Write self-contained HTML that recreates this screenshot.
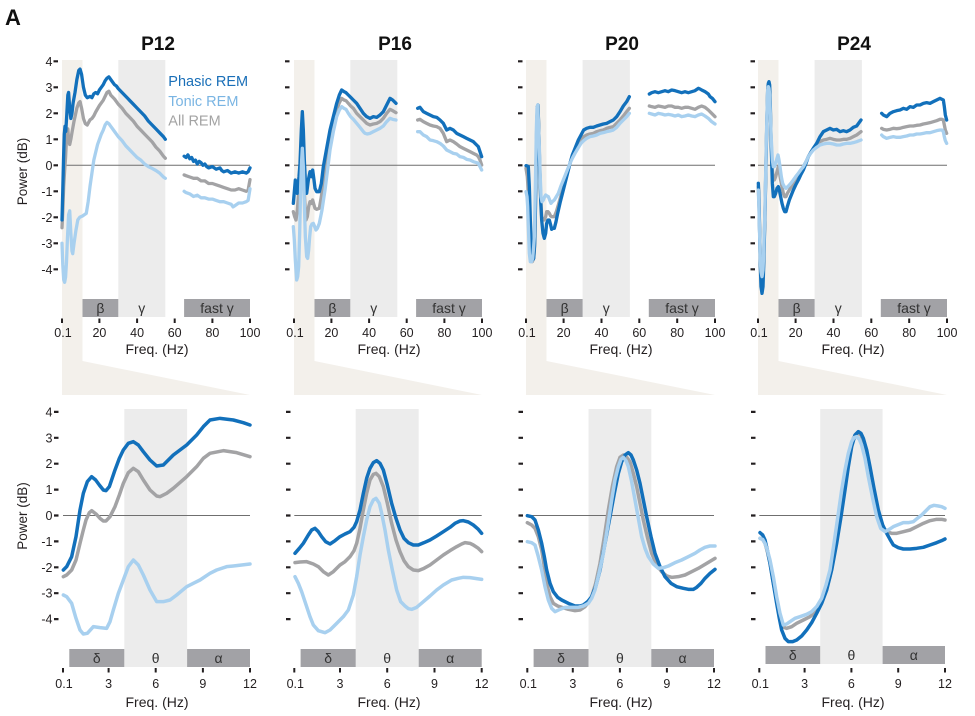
<!DOCTYPE html>
<html><head><meta charset="utf-8"><style>
html,body{margin:0;padding:0;background:#fff;}
svg{display:block;}
text{font-family:"Liberation Sans",Arial,sans-serif;}
.tk{fill:#231f20;font-size:12.5px;text-anchor:middle;}
.yl{fill:#231f20;font-size:12.5px;text-anchor:end;}
.fl{fill:#231f20;font-size:14px;text-anchor:middle;}
.bl{fill:#333;font-size:14px;text-anchor:middle;}
.ttl{fill:#111;font-size:19px;font-weight:bold;text-anchor:middle;}
.ph{fill:none;stroke:#1270bb;stroke-linejoin:round;stroke-linecap:round;}
.to{fill:none;stroke:#a8d0ef;stroke-linejoin:round;stroke-linecap:round;}
.al{fill:none;stroke:#a3a3a5;stroke-linejoin:round;stroke-linecap:round;}
</style></head><body>
<svg width="975" height="716" viewBox="0 0 975 716" xmlns="http://www.w3.org/2000/svg">
<rect width="975" height="716" fill="#fff"/>

<!-- beige trapezoids -->
<g fill="#f3f0eb">
<polygon points="62,60 82.5,60 82.5,361 250,395 62,395"/>
<polygon points="294,60 314.5,60 314.5,361 482,395 294,395"/>
<polygon points="526,60 546.5,60 546.5,361 715,395 526,395"/>
<polygon points="758,60 778.5,60 778.5,361 947,395 758,395"/>
</g>

<!-- gamma bands (top) -->
<g fill="#ececec">
<rect x="118.3" y="60" width="47" height="257"/>
<rect x="350.3" y="60" width="47" height="257"/>
<rect x="582.6" y="60" width="47.3" height="257"/>
<rect x="814.6" y="60" width="47.3" height="257"/>
<!-- theta bands (bottom) -->
<rect x="124.3" y="409" width="62.8" height="258"/>
<rect x="355.7" y="409" width="63" height="258"/>
<rect x="588.5" y="409" width="62.8" height="258"/>
<rect x="820.2" y="409" width="62.4" height="255"/>
</g>

<!-- dark boxes -->
<g fill="#a2a2a6">
<rect x="82.5" y="299" width="35.8" height="18"/>
<rect x="184.1" y="299" width="65.9" height="18"/>
<rect x="314.5" y="299" width="35.8" height="18"/>
<rect x="416.1" y="299" width="65.9" height="18"/>
<rect x="546.5" y="299" width="36.1" height="18"/>
<rect x="648.8" y="299" width="66.2" height="18"/>
<rect x="778.5" y="299" width="36.1" height="18"/>
<rect x="880.8" y="299" width="66.2" height="18"/>

<rect x="69.3" y="649" width="55" height="18"/>
<rect x="187.1" y="649" width="62.9" height="18"/>
<rect x="300.6" y="649" width="55.1" height="18"/>
<rect x="418.7" y="649" width="63" height="18"/>
<rect x="533.6" y="649" width="54.9" height="18"/>
<rect x="651.3" y="649" width="62.7" height="18"/>
<rect x="765.5" y="646" width="54.7" height="18"/>
<rect x="882.6" y="646" width="62.4" height="18"/>
</g>

<!-- band labels -->
<g class="bl">
<text x="100.4" y="313">β</text><text x="141.8" y="313">γ</text><text x="217" y="313">fast γ</text>
<text x="332.4" y="313">β</text><text x="373.8" y="313">γ</text><text x="449" y="313">fast γ</text>
<text x="564.6" y="313">β</text><text x="606.2" y="313">γ</text><text x="682" y="313">fast γ</text>
<text x="796.6" y="313">β</text><text x="838.2" y="313">γ</text><text x="914" y="313">fast γ</text>

<text x="96.8" y="663">δ</text><text x="155.7" y="663">θ</text><text x="218.5" y="663">α</text>
<text x="328.1" y="663">δ</text><text x="387.2" y="663">θ</text><text x="450.2" y="663">α</text>
<text x="561" y="663">δ</text><text x="619.9" y="663">θ</text><text x="682.6" y="663">α</text>
<text x="792.8" y="660">δ</text><text x="851.4" y="660">θ</text><text x="913.8" y="660">α</text>
</g>

<!-- zero lines -->
<g stroke="#6f6f6f" stroke-width="1">
<line x1="62" y1="165.3" x2="250" y2="165.3"/>
<line x1="294" y1="165.3" x2="482" y2="165.3"/>
<line x1="526" y1="165.3" x2="715" y2="165.3"/>
<line x1="758" y1="165.3" x2="947" y2="165.3"/>
<line x1="63" y1="515.5" x2="250" y2="515.5"/>
<line x1="294.3" y1="515.5" x2="481.7" y2="515.5"/>
<line x1="527.3" y1="515.5" x2="714" y2="515.5"/>
<line x1="759.3" y1="515.5" x2="945" y2="515.5"/>
</g>

<!-- y tick dashes -->
<g stroke="#231f20" stroke-width="2.2">
<path d="M53.5 61.3h4.5M53.5 87.3h4.5M53.5 113.3h4.5M53.5 139.3h4.5M53.5 165.3h4.5M53.5 191.3h4.5M53.5 217.3h4.5M53.5 243.3h4.5M53.5 269.3h4.5"/>
<path d="M285 61.3h4.5M285 87.3h4.5M285 113.3h4.5M285 139.3h4.5M285 165.3h4.5M285 191.3h4.5M285 217.3h4.5M285 243.3h4.5M285 269.3h4.5"/>
<path d="M518 61.3h4.5M518 87.3h4.5M518 113.3h4.5M518 139.3h4.5M518 165.3h4.5M518 191.3h4.5M518 217.3h4.5M518 243.3h4.5M518 269.3h4.5"/>
<path d="M750.5 61.3h4.5M750.5 87.3h4.5M750.5 113.3h4.5M750.5 139.3h4.5M750.5 165.3h4.5M750.5 191.3h4.5M750.5 217.3h4.5M750.5 243.3h4.5M750.5 269.3h4.5"/>
<path d="M54 411.9h4.5M54 437.8h4.5M54 463.7h4.5M54 489.6h4.5M54 515.5h4.5M54 541.4h4.5M54 567.3h4.5M54 593.2h4.5M54 619.1h4.5"/>
<path d="M286 411.9h4.5M286 437.8h4.5M286 463.7h4.5M286 489.6h4.5M286 515.5h4.5M286 541.4h4.5M286 567.3h4.5M286 593.2h4.5M286 619.1h4.5"/>
<path d="M518.5 411.9h4.5M518.5 437.8h4.5M518.5 463.7h4.5M518.5 489.6h4.5M518.5 515.5h4.5M518.5 541.4h4.5M518.5 567.3h4.5M518.5 593.2h4.5M518.5 619.1h4.5"/>
<path d="M751 411.9h4.5M751 437.8h4.5M751 463.7h4.5M751 489.6h4.5M751 515.5h4.5M751 541.4h4.5M751 567.3h4.5M751 593.2h4.5M751 619.1h4.5"/>
</g>

<!-- x tick marks -->
<g stroke="#231f20" stroke-width="2">
<path d="M62 318.5v4.5M99.4 318.5v4.5M137.1 318.5v4.5M174.7 318.5v4.5M212.4 318.5v4.5M250 318.5v4.5"/>
<path d="M294 318.5v4.5M331.4 318.5v4.5M369.1 318.5v4.5M406.7 318.5v4.5M444.4 318.5v4.5M482 318.5v4.5"/>
<path d="M526 318.5v4.5M563.6 318.5v4.5M601.5 318.5v4.5M639.3 318.5v4.5M677.2 318.5v4.5M715 318.5v4.5"/>
<path d="M758 318.5v4.5M795.6 318.5v4.5M833.5 318.5v4.5M871.3 318.5v4.5M909.2 318.5v4.5M947 318.5v4.5"/>
<path d="M63 668v4.5M108.6 668v4.5M155.7 668v4.5M202.9 668v4.5M250 668v4.5"/>
<path d="M294.3 668v4.5M340 668v4.5M387.2 668v4.5M434.5 668v4.5M481.7 668v4.5"/>
<path d="M527.3 668v4.5M572.8 668v4.5M619.9 668v4.5M666.9 668v4.5M714 668v4.5"/>
<path d="M759.3 668v4.5M804.6 668v4.5M851.4 668v4.5M898.2 668v4.5M945 668v4.5"/>
</g>

<!-- x tick labels -->
<g class="tk">
<text x="63" y="337">0.1</text><text x="99.4" y="337">20</text><text x="137.1" y="337">40</text><text x="174.7" y="337">60</text><text x="212.4" y="337">80</text><text x="250" y="337">100</text>
<text x="295" y="337">0.1</text><text x="331.4" y="337">20</text><text x="369.1" y="337">40</text><text x="406.7" y="337">60</text><text x="444.4" y="337">80</text><text x="482" y="337">100</text>
<text x="527" y="337">0.1</text><text x="563.6" y="337">20</text><text x="601.5" y="337">40</text><text x="639.3" y="337">60</text><text x="677.2" y="337">80</text><text x="715" y="337">100</text>
<text x="759" y="337">0.1</text><text x="795.6" y="337">20</text><text x="833.5" y="337">40</text><text x="871.3" y="337">60</text><text x="909.2" y="337">80</text><text x="947" y="337">100</text>

<text x="64" y="688">0.1</text><text x="108.6" y="688">3</text><text x="155.7" y="688">6</text><text x="202.9" y="688">9</text><text x="250" y="688">12</text>
<text x="295.3" y="688">0.1</text><text x="340" y="688">3</text><text x="387.2" y="688">6</text><text x="434.5" y="688">9</text><text x="481.7" y="688">12</text>
<text x="528.3" y="688">0.1</text><text x="572.8" y="688">3</text><text x="619.9" y="688">6</text><text x="666.9" y="688">9</text><text x="714" y="688">12</text>
<text x="760.3" y="688">0.1</text><text x="804.6" y="688">3</text><text x="851.4" y="688">6</text><text x="898.2" y="688">9</text><text x="945" y="688">12</text>
</g>

<!-- Freq labels -->
<g class="fl">
<text x="157" y="354">Freq. (Hz)</text>
<text x="389" y="354">Freq. (Hz)</text>
<text x="621" y="354">Freq. (Hz)</text>
<text x="853" y="354">Freq. (Hz)</text>
<text x="157" y="707">Freq. (Hz)</text>
<text x="389" y="707">Freq. (Hz)</text>
<text x="621" y="707">Freq. (Hz)</text>
<text x="853" y="707">Freq. (Hz)</text>
</g>

<!-- y tick labels P12 -->
<g class="yl">
<text x="52.5" y="65.8">4</text><text x="52.5" y="91.8">3</text><text x="52.5" y="117.8">2</text><text x="52.5" y="143.8">1</text><text x="52.5" y="169.8">0</text><text x="52.5" y="195.8">-1</text><text x="52.5" y="221.8">-2</text><text x="52.5" y="247.8">-3</text><text x="52.5" y="273.8">-4</text>
<text x="52.5" y="416.4">4</text><text x="52.5" y="442.3">3</text><text x="52.5" y="468.2">2</text><text x="52.5" y="494.1">1</text><text x="52.5" y="520">0</text><text x="52.5" y="545.9">-1</text><text x="52.5" y="571.8">-2</text><text x="52.5" y="597.7">-3</text><text x="52.5" y="623.6">-4</text>
</g>
<text transform="translate(27,171.5) rotate(-90)" style="font-size:13.5px;fill:#231f20;text-anchor:middle">Power (dB)</text>
<text transform="translate(27,516) rotate(-90)" style="font-size:13.5px;fill:#231f20;text-anchor:middle">Power (dB)</text>

<!-- titles -->
<text x="5" y="25" style="font-size:22px;font-weight:bold;fill:#111">A</text>
<g class="ttl">
<text x="158" y="50">P12</text>
<text x="395" y="50">P16</text>
<text x="622" y="50">P20</text>
<text x="854" y="50">P24</text>
</g>

<!-- legend -->
<text x="168.3" y="86" style="font-size:14.5px;fill:#1a6fb8">Phasic REM</text>
<text x="168.3" y="106" style="font-size:14.5px;fill:#7ab5e3">Tonic REM</text>
<text x="168.3" y="125.5" style="font-size:14.5px;fill:#a3a3a3">All REM</text>

<!-- P12 top curves (freq, dB) -->
<g transform="translate(62,165.3) scale(1.882,-26) translate(-0.1,0)">
<polyline class="al" vector-effect="non-scaling-stroke" stroke-width="3.3" points="0.1,-2.4 0.5,-1.8 1.0,-0.8 1.5,-0.2 2,0.3 2.6,1.2 3.2,1.4 3.6,1.0 4.2,0.8 4.8,1.0 5.5,1.3 6.5,1.7 8,2.2 9,2.4 9.7,2.45 10.5,2.2 11.5,1.8 12.5,1.6 13.5,1.55 15,1.75 16,1.8 17,1.9 18,2.05 20,2.3 22,2.5 24,2.8 25,2.85 26,2.7 28,2.55 30,2.35 32,2.2 34,2.0 36,1.85 38,1.7 40,1.5 42,1.35 44,1.2 46,1.05 48,0.9 50,0.7 52,0.55 54,0.35 55,0.27"/>
<polyline class="al" vector-effect="non-scaling-stroke" stroke-width="3.3" points="65,-0.37 66,-0.4 68,-0.45 70,-0.5 72,-0.5 74,-0.6 76,-0.6 78,-0.7 80,-0.7 82,-0.75 84,-0.8 86,-0.85 88,-0.9 90,-0.95 92,-0.95 94,-0.9 96,-0.95 98,-1.0 99,-0.95 100,-0.55"/>
<polyline class="ph" vector-effect="non-scaling-stroke" stroke-width="3.3" points="0.1,-2.1 0.5,-1.0 0.9,0.2 1.3,1.2 1.7,1.5 2.1,1.3 2.6,1.9 3.2,2.7 3.6,2.8 4.2,2.2 4.8,1.8 5.4,2.0 6,2.4 7,2.8 8,3.3 9,3.65 9.7,3.7 10.5,3.5 11.5,3.0 12.5,2.7 13.5,2.6 15,2.65 16,2.6 17,2.75 18,2.8 19,2.75 20,2.9 21,3.0 22,3.1 23,3.25 24,3.35 25,3.4 26,3.3 27,3.2 28,3.1 29,3.05 30,2.95 32,2.8 34,2.65 36,2.5 38,2.35 40,2.2 42,2.05 44,1.9 46,1.7 48,1.55 50,1.4 52,1.25 54,1.1 55,1.0"/>
<polyline class="ph" vector-effect="non-scaling-stroke" stroke-width="3.3" points="65,0.35 66,0.3 67,0.4 68,0.25 69,0.3 70,0.15 71,0.2 72,0.05 73,0.15 74,0.1 75,0 76,0.05 77,-0.05 78,-0.1 80,-0.05 82,-0.15 84,-0.1 85,-0.2 86,-0.25 88,-0.2 90,-0.3 92,-0.25 94,-0.3 96,-0.25 98,-0.3 99,-0.25 100,-0.1"/>
<polyline class="to" vector-effect="non-scaling-stroke" stroke-width="3.3" points="0.1,-3.0 0.5,-3.8 1.0,-4.4 1.5,-4.5 2.0,-4.3 2.5,-3.7 3.0,-2.8 3.6,-1.9 4.2,-1.75 4.8,-2.6 5.4,-3.3 5.8,-3.4 6.5,-3.0 7.5,-2.5 8.5,-2.1 9.5,-2.0 11,-1.95 12,-1.9 13,-1.85 14,-1.4 15,-0.8 16,-0.3 17,0.2 18,0.5 19,0.8 20,1.0 21,1.2 22,1.35 23,1.55 24,1.65 25,1.6 26,1.5 27,1.4 28,1.3 30,1.1 32,0.95 34,0.75 36,0.6 38,0.45 40,0.3 42,0.2 44,0.05 46,-0.05 48,-0.12 50,-0.2 52,-0.3 54,-0.45 55,-0.5"/>
<polyline class="to" vector-effect="non-scaling-stroke" stroke-width="3.3" points="65,-1.0 66,-1.05 68,-1.1 70,-1.2 72,-1.15 74,-1.25 76,-1.25 78,-1.3 80,-1.3 82,-1.35 84,-1.4 86,-1.4 88,-1.45 90,-1.5 91,-1.6 92,-1.55 94,-1.45 96,-1.45 98,-1.4 99,-1.35 100,-0.9"/>
</g>

<!-- P16 top (zoom coords) -->
<g transform="translate(260,20) scale(0.33333)" stroke-width="10">
<polyline class="al" points="100,575 104,590 108,600 112,570 116,520 120,450 124,370 127,330 130,400 134,540 138,600 142,590 146,560 150,545 155,550 158,540 162,555 165,565 170,568 178,565 184,530 190,480 200,420 210,360 220,310 230,270 238,248 245,235 252,240 258,242 265,250 272,258 280,265 290,280 300,290 310,300 320,310 330,315 340,312 350,310 360,305 370,295 380,280 390,268 398,272 408,278"/>
<polyline class="al" points="473,300 480,298 490,305 500,310 510,315 520,318 530,320 540,325 550,340 560,365 570,360 580,365 590,372 600,380 610,385 620,390 630,395 640,400 650,405 655,410 660,420 665,435"/>
<polyline class="ph" points="100,550 106,480 112,520 117,470 120,430 124,330 127,275 130,330 133,420 137,500 140,520 145,480 150,455 155,470 158,450 162,480 165,505 170,515 178,515 184,490 190,440 200,385 210,330 220,290 230,250 238,225 245,210 252,215 258,218 265,225 272,232 280,240 290,250 300,265 310,280 320,290 330,295 340,290 350,292 360,285 370,275 380,255 390,235 398,240 408,250"/>
<polyline class="ph" points="473,265 480,262 490,275 500,280 510,285 520,290 530,292 540,300 550,310 560,330 570,325 580,330 590,340 600,345 610,350 620,355 630,360 640,365 650,375 655,380 660,395 665,410"/>
<polyline class="to" points="100,620 103,660 106,720 110,780 113,770 116,740 119,640 122,500 125,420 127,385 130,440 133,550 136,650 140,710 143,715 146,690 149,650 152,620 156,612 160,610 164,620 168,630 172,625 178,610 186,570 195,510 202,455 210,390 220,335 230,290 238,270 245,260 252,265 258,268 265,280 272,290 280,298 290,310 300,322 310,335 315,340 322,342 330,340 340,335 350,330 360,325 370,318 380,305 390,295 398,298 408,300"/>
<polyline class="to" points="473,335 480,335 490,345 500,350 510,360 520,362 530,365 540,370 550,378 560,390 570,395 580,400 590,402 600,410 610,412 620,418 630,420 640,425 650,428 655,430 660,440 665,450"/>
</g>

<!-- P20 top -->
<g transform="translate(495,20) scale(0.33333)" stroke-width="10">
<polyline class="al" points="93,445 97,470 100,520 103,600 107,700 112,725 116,715 119,680 121,590 123,450 125,330 127,262 129,258 131,320 134,430 137,530 140,590 144,600 148,600 152,590 155,575 159,575 163,580 167,588 170,590 174,590 178,590 184,575 190,555 197,530 205,500 215,465 225,430 232,410 240,395 250,375 258,360 266,350 275,345 285,342 295,340 305,335 315,332 325,330 335,325 345,322 355,320 365,310 375,300 385,288 395,275 403,265"/>
<polyline class="al" points="463,258 470,260 480,262 490,258 500,260 510,262 520,258 530,258 540,262 550,262 560,265 570,262 580,262 590,265 600,268 610,262 620,258 630,262 640,270 650,280 660,290"/>
<polyline class="ph" points="93,437 97,438 100,440 103,500 106,600 109,680 113,720 116,715 119,670 121,580 123,450 125,330 127,260 129,255 131,320 134,440 137,540 140,600 144,640 148,655 152,640 155,610 159,600 163,600 167,615 170,628 174,625 178,625 183,605 188,580 196,545 205,510 215,470 225,430 232,405 240,385 250,360 258,345 266,330 275,325 285,322 295,322 305,318 315,315 325,312 335,310 345,305 355,300 365,290 375,275 385,258 395,245 403,230"/>
<polyline class="ph" points="463,222 470,218 480,215 490,218 500,215 510,212 520,215 530,210 540,212 550,215 560,218 570,215 580,218 590,215 600,212 610,205 615,207 620,210 630,215 640,222 645,230 652,235 660,245"/>
<polyline class="to" points="93,515 96,530 98,560 100,620 103,700 106,725 110,725 113,715 116,680 118,650 120,560 122,450 124,330 126,265 128,255 130,300 133,380 135,450 138,530 141,545 145,540 149,530 152,525 156,528 160,530 164,540 168,550 172,545 178,540 184,530 190,520 197,500 205,480 215,455 225,430 232,415 240,400 250,383 258,370 266,362 275,355 285,350 295,348 305,345 315,340 325,338 335,335 345,333 355,330 365,322 375,310 385,300 395,290 403,280"/>
<polyline class="to" points="463,280 470,282 480,285 490,280 500,282 510,285 520,283 530,285 540,288 550,285 560,290 570,288 580,285 590,288 600,290 610,285 620,282 630,288 640,295 650,305 660,312"/>
</g>

<!-- P24 top -->
<g transform="translate(730,20) scale(0.33333)" stroke-width="10">
<polyline class="al" points="85,500 87,560 89,640 91,720 93,760 96,780 99,770 101,720 103,650 105,570 107,470 109,370 111,290 113,215 115,200 117,200 119,210 121,270 123,350 125,400 127,450 130,480 133,480 137,470 141,455 145,440 148,455 152,480 156,500 160,520 164,530 168,530 172,520 178,510 184,500 190,490 197,480 205,465 212,455 220,440 228,425 235,410 242,398 250,385 260,375 270,365 280,360 290,358 300,355 310,358 320,360 330,360 340,358 350,358 360,355 370,350 380,345 393,335"/>
<polyline class="al" points="455,325 460,328 470,330 480,328 490,325 500,326 510,325 520,322 530,320 540,318 550,318 560,316 570,315 580,312 590,310 600,308 610,305 620,302 630,298 636,298 640,300 643,315 646,330 650,340"/>
<polyline class="ph" points="85,490 87,540 89,640 91,740 93,800 96,820 99,800 101,740 103,660 105,580 107,480 109,380 111,290 113,210 115,190 117,185 119,195 121,260 123,360 125,420 127,490 130,530 133,530 137,520 141,505 145,500 148,510 152,530 156,550 160,565 164,575 168,575 172,560 178,540 184,525 190,510 197,495 205,480 212,465 220,450 228,430 235,410 242,398 250,385 260,370 270,350 280,335 290,330 300,325 310,330 320,328 330,335 340,332 350,335 360,330 370,322 380,318 393,300"/>
<polyline class="ph" points="455,280 460,285 470,290 480,280 490,275 500,272 510,270 520,265 530,268 540,260 550,262 560,255 570,255 580,250 590,248 600,250 610,245 620,240 630,235 636,238 640,240 643,260 646,285 650,300"/>
<polyline class="to" points="85,510 87,570 89,650 91,720 93,755 96,770 99,750 101,700 103,630 105,560 107,460 109,360 111,280 113,210 115,200 117,205 119,225 121,280 123,340 125,380 127,420 130,440 133,440 137,430 141,415 144,405 147,420 150,440 154,470 158,490 163,500 168,505 173,500 178,495 184,488 190,480 197,470 205,460 212,450 220,440 228,425 235,410 242,400 250,390 260,382 270,375 280,372 290,370 300,370 310,372 320,375 330,375 340,372 350,370 360,370 370,368 380,365 393,360"/>
<polyline class="to" points="455,345 460,350 470,355 480,352 490,350 500,352 510,352 520,350 530,348 540,345 550,345 560,342 570,342 580,340 590,338 600,338 610,335 620,332 630,330 636,330 640,335 643,350 646,362 650,370"/>
</g>

<!-- P12 bottom -->
<g transform="translate(0,370) scale(0.33333)" stroke-width="10.5">
<polyline class="al" points="190,620 200,615 215,600 228,570 240,520 250,480 258,450 268,428 275,422 288,432 300,445 310,453 318,453 330,440 345,410 358,375 370,340 385,308 400,295 415,305 430,330 450,360 470,378 480,380 500,370 520,355 560,320 590,290 610,265 630,250 670,242 710,248 750,260"/>
<polyline class="ph" points="190,600 200,590 215,560 228,500 240,420 250,370 262,335 275,320 287,330 298,345 310,360 318,362 328,350 345,300 358,265 370,240 385,220 400,215 415,225 430,245 450,270 470,288 490,285 520,255 560,225 590,195 610,170 630,150 660,145 700,150 730,158 750,165"/>
<polyline class="to" points="190,675 200,680 215,700 228,745 240,780 250,792 262,790 280,770 300,773 320,775 330,755 340,720 355,670 370,630 385,590 400,570 415,585 430,615 450,660 470,695 490,695 510,690 530,675 560,650 580,640 600,630 630,610 650,600 680,590 700,588 750,582"/>
</g>

<!-- P16 bottom -->
<g transform="translate(260,370) scale(0.33333)" stroke-width="10.5">
<polyline class="al" points="105,578 120,576 140,575 160,582 175,590 190,605 205,615 220,605 240,585 255,575 270,560 282,542 290,520 300,475 310,420 320,370 330,330 340,313 348,310 358,320 370,350 382,400 395,460 408,510 420,545 432,572 445,590 460,600 475,602 492,595 510,585 530,570 550,555 570,542 590,530 605,522 615,518 630,520 640,525 655,535 665,545"/>
<polyline class="ph" points="105,550 118,535 130,520 145,495 155,480 165,475 175,485 185,500 197,515 210,522 225,512 240,500 255,492 270,485 282,472 290,455 300,420 310,370 320,325 330,295 340,278 350,272 360,280 370,300 382,345 395,400 408,445 420,480 432,505 445,518 460,525 475,525 492,518 510,510 530,498 550,485 570,472 585,460 600,453 610,452 625,456 640,465 655,478 665,490"/>
<polyline class="to" points="105,620 115,640 125,665 140,710 150,740 160,765 175,782 195,788 210,780 230,760 250,740 265,720 280,675 290,620 300,555 310,500 320,450 330,410 340,390 348,385 358,400 365,430 375,480 385,540 397,600 410,660 422,695 435,708 445,716 455,718 470,712 490,695 510,678 530,660 550,645 575,630 595,625 610,622 630,623 650,626 665,628"/>
</g>

<!-- P20 bottom -->
<g transform="translate(495,370) scale(0.33333)" stroke-width="10.5">
<polyline class="al" points="97,458 110,465 120,475 130,500 140,540 148,590 155,640 165,680 175,700 188,708 200,712 220,718 240,722 255,720 270,710 280,698 290,680 302,640 315,580 328,500 340,420 352,350 365,290 375,262 385,255 395,262 405,275 415,310 425,350 435,400 445,450 458,505 470,550 485,585 500,605 515,618 530,622 550,620 570,615 590,605 610,595 635,580 660,565"/>
<polyline class="ph" points="97,437 110,440 120,450 130,480 140,520 148,560 155,600 165,640 175,665 188,682 200,690 220,700 240,708 255,708 265,705 278,695 290,680 302,650 315,600 330,520 345,440 358,370 370,310 380,275 390,255 400,248 408,255 415,270 425,300 435,340 445,390 455,440 468,500 480,550 495,590 510,620 528,640 545,650 565,655 580,658 595,658 605,652 618,640 630,625 645,610 660,598"/>
<polyline class="to" points="97,515 110,518 120,525 130,560 140,600 150,650 160,690 170,715 180,725 195,718 210,712 230,712 250,712 265,708 280,700 290,685 300,660 312,610 325,550 338,470 350,390 360,330 370,290 378,268 385,262 393,272 400,290 410,335 420,390 430,445 440,500 450,535 460,560 475,582 490,595 505,593 520,588 540,578 560,570 580,560 600,550 615,540 630,532 645,528 660,528"/>
</g>

<!-- P24 bottom -->
<g transform="translate(730,370) scale(0.33333)" stroke-width="10.5">
<polyline class="al" points="90,505 98,508 105,520 112,545 120,580 130,640 140,690 148,730 155,760 162,772 170,775 185,770 200,760 220,750 240,740 255,728 270,705 285,670 300,620 312,550 325,470 338,380 350,300 360,240 370,205 378,192 385,190 393,195 400,215 410,255 420,310 432,370 445,430 458,470 470,485 485,490 500,490 520,485 540,480 560,470 580,460 600,452 620,448 635,448 645,450"/>
<polyline class="ph" points="90,488 98,495 105,510 112,540 120,580 130,640 140,700 148,745 155,780 165,805 175,815 188,815 200,810 215,798 230,780 245,758 260,730 275,700 290,660 305,600 320,520 333,440 345,360 355,290 365,230 375,195 385,185 393,190 400,205 410,240 420,290 432,355 445,420 458,465 470,490 480,508 490,525 505,533 520,537 540,537 560,535 580,532 600,525 620,518 635,512 645,507"/>
<polyline class="to" points="90,505 98,508 105,520 112,540 120,570 130,620 140,680 150,730 160,765 170,762 180,755 195,745 210,740 230,733 245,725 260,710 275,685 288,645 300,600 312,520 325,430 335,360 345,300 355,250 365,215 372,203 380,200 388,208 395,225 405,265 415,320 428,385 440,440 452,475 465,485 478,478 490,470 505,464 520,458 535,458 550,455 562,445 575,435 590,420 600,410 612,406 625,408 635,410 645,415"/>
</g>
</svg>
</body></html>
